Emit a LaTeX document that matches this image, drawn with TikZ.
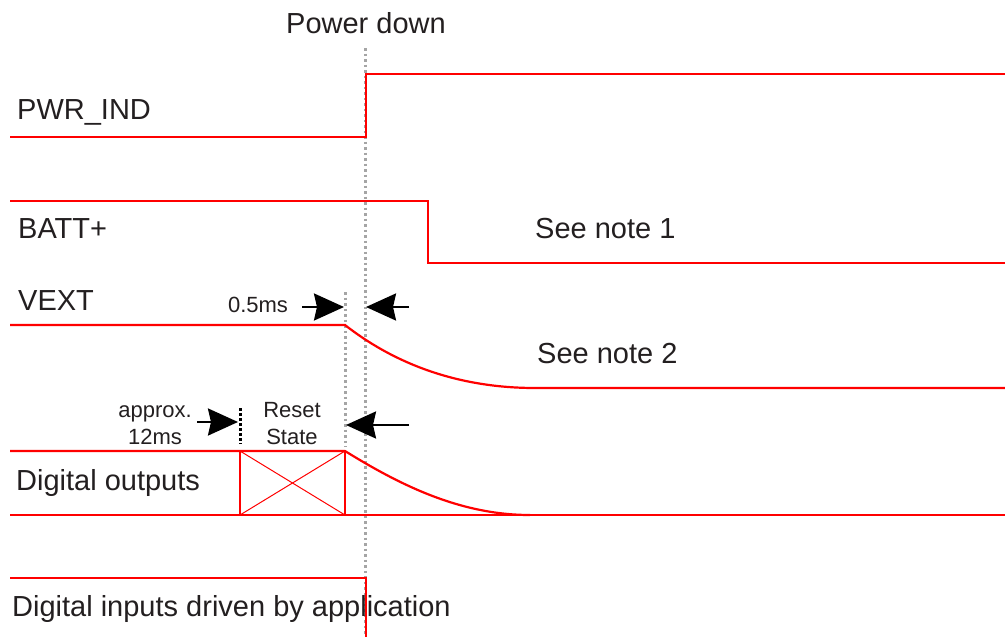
\documentclass[tikz,border=0pt]{standalone}
\usepackage{fontspec}
\setmainfont{Liberation Sans}
\usetikzlibrary{arrows.meta}
\definecolor{sig}{RGB}{255,0,0}
\definecolor{txt}{RGB}{35,31,32}
\definecolor{guide}{RGB}{165,165,165}
\begin{document}
\begin{tikzpicture}[x=1pt,y=-1pt,
  signal/.style={draw=sig,line width=2.2pt},
  thinsig/.style={draw=sig,line width=1pt},
  guideline/.style={draw=guide,line width=3pt,dash pattern=on 2.5pt off 3pt},
  bigtxt/.style={font=\fontsize{29pt}{33pt}\selectfont,text=txt,inner sep=0pt,anchor=base west},
  smalltxt/.style={font=\fontsize{22pt}{22pt}\selectfont,text=txt,inner sep=0pt,align=center},
  dimarrow/.style={draw=black,line width=2.5pt,-{Stealth[length=30pt,width=27pt,inset=3pt]}},
  marker/.style={draw=black,line width=3pt,dash pattern=on 3pt off 2pt}
]
\useasboundingbox (0,0) rectangle (1005,637);

% guide lines
\coordinate (g1t) at (365,48); \coordinate (g1b) at (365,637);
\coordinate (g2t) at (345,292); \coordinate (g2b) at (345,447);
\draw[guideline] (g1t) -- (g1b);
\draw[guideline] (g2t) -- (g2b);

% labels
\node[bigtxt,anchor=base] (pd) at (366,34) {Power down};
\node[bigtxt] (lpwr) at (17,119) {PWR\_IND};
\node[bigtxt] (lbatt) at (18,238) {BATT+};
\node[bigtxt] (lvext) at (18,310) {VEXT};
\node[bigtxt] (ldo) at (16,490) {Digital outputs};
\node[bigtxt] (ldi) at (12,616) {Digital inputs driven by application};
\node[bigtxt] (n1) at (535,238) {See note 1};
\node[bigtxt] (n2) at (537,363) {See note 2};

% PWR_IND
\coordinate (p0) at (10,137); \coordinate (p1) at (366,137);
\coordinate (p2) at (366,74); \coordinate (p3) at (1005,74);
\draw[signal] (p0) -- (p1) -- (p2) -- (p3);

% BATT+
\coordinate (b0) at (10,201); \coordinate (b1) at (428,201);
\coordinate (b2) at (428,263); \coordinate (b3) at (1005,263);
\draw[signal] (b0) -- (b1) -- (b2) -- (b3);

% VEXT
\coordinate (v0) at (10,325); \coordinate (v1) at (345,325);
\coordinate (v2) at (535,388); \coordinate (v3) at (1005,388);
\draw[signal] (v0) -- (v1) .. controls (400,368) and (465,388) .. (v2) -- (v3);

% Digital outputs
\coordinate (d0) at (10,451); \coordinate (d1) at (345,451);
\coordinate (d2) at (530,515); \coordinate (d3) at (1005,515);
\coordinate (e0) at (10,515);
\coordinate (bx1) at (240,451); \coordinate (bx2) at (240,515);
\coordinate (bx3) at (345,515);
\draw[signal] (d0) -- (d1) .. controls (400,485) and (460,515) .. (d2);
\draw[signal] (e0) -- (d3);
\draw[signal] (bx1) -- (bx2);
\draw[signal] (d1) -- (bx3);
\draw[thinsig] (bx1) -- (bx3);
\draw[thinsig] (bx2) -- (d1);

% Digital inputs
\coordinate (i0) at (10,578); \coordinate (i1) at (366,578);
\coordinate (i2) at (366,637);
\draw[signal] (i0) -- (i1) -- (i2);

% dimension annotations
\node[smalltxt,anchor=base] (t05) at (258,312) {0.5ms};
\coordinate (a1s) at (302,307); \coordinate (a1e) at (344,307);
\coordinate (a2s) at (409,307); \coordinate (a2e) at (366,307);
\draw[dimarrow] (a1s) -- (a1e);
\draw[dimarrow] (a2s) -- (a2e);

\node[smalltxt,anchor=base] (tap1) at (155,417) {approx.};
\node[smalltxt,anchor=base] (tap2) at (155,444) {12ms};
\node[smalltxt,anchor=base] (trs1) at (292,417) {Reset};
\node[smalltxt,anchor=base] (trs2) at (292,444) {State};
\coordinate (a3s) at (197,422); \coordinate (a3e) at (238,422);
\draw[dimarrow] (a3s) -- (a3e);
\coordinate (m1) at (240,408); \coordinate (m2) at (240,444);
\draw[marker] (m1) -- (m2);
\coordinate (a4s) at (409,425); \coordinate (a4e) at (346,425);
\draw[dimarrow] (a4s) -- (a4e);
\end{tikzpicture}
\end{document}
